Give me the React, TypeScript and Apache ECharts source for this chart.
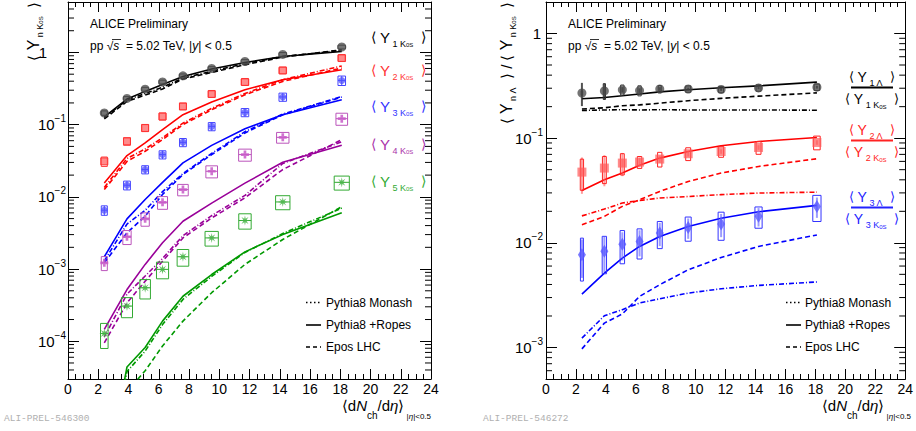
import React, { useEffect, useRef } from 'react';
import * as echarts from 'echarts';

const FF = '"Liberation Sans", Arial, Helvetica, sans-serif';
const MONO = '"Liberation Mono", "DejaVu Sans Mono", monospace';

// multiplicity classes <dNch/deta>
const multX = [2.4, 3.9, 5.1, 6.25, 7.6, 9.5, 11.7, 14.2, 18.1];

// ---------- Left panel: <Y_n K0S> ----------
const kYield1 = [0.145, 0.231, 0.31, 0.39, 0.475, 0.6, 0.75, 0.94, 1.19];
const kYield2 = [0.031, 0.0588, 0.09, 0.13, 0.179, 0.266, 0.39, 0.564, 0.837];
const kYield3 = [0.00653, 0.0145, 0.0239, 0.0385, 0.0569, 0.0946, 0.148, 0.242, 0.41];
const kYield4 = [0.00122, 0.0028, 0.00496, 0.0084, 0.0126, 0.0226, 0.0385, 0.0667, 0.121];
const kYield5 = [1.28e-4, 3.07e-4, 5.5e-4, 9.9e-4, 1.48e-3, 2.7e-3, 4.7e-3, 8.5e-3, 1.59e-2];

const kSys1 = [0.07, 0.06, 0.06, 0.06, 0.06, 0.06, 0.06, 0.06, 0.06];
const kSys2 = [0.15, 0.12, 0.11, 0.11, 0.1, 0.1, 0.1, 0.1, 0.1];
const kSys3 = [0.15, 0.14, 0.13, 0.13, 0.13, 0.13, 0.13, 0.13, 0.15];
const kSys4 = [0.22, 0.22, 0.21, 0.2, 0.18, 0.19, 0.19, 0.17, 0.19];
const kSys5 = [0.38, 0.31, 0.3, 0.26, 0.26, 0.23, 0.24, 0.22, 0.22];
const kWidth123 = [0.4, 0.45, 0.45, 0.45, 0.45, 0.45, 0.5, 0.5, 0.5];
const kWidth4 = [0.4, 0.55, 0.55, 0.66, 0.7, 0.77, 0.84, 0.82, 0.77];
const kWidth5 = [0.5, 0.73, 0.7, 0.8, 0.77, 0.88, 0.82, 0.95, 1.0];

const kRopes1 = [0.128, 0.226, 0.289, 0.361, 0.466, 0.589, 0.727, 0.88, 1.03];
const kRopes2 = [0.0156, 0.0373, 0.0558, 0.0853, 0.1375, 0.206, 0.305, 0.419, 0.576];
const kRopes3 = [0.00148, 0.00496, 0.00918, 0.0159, 0.0295, 0.0517, 0.088, 0.137, 0.222];
const kRopes4 = [1.46e-4, 5.2e-4, 1.16e-3, 2.31e-3, 4.6e-3, 8.2e-3, 0.0155, 0.0301, 0.0517];
const kRopes5 = [1e-6, 4.4e-5, 8.2e-5, 1.9e-4, 4.2e-4, 8.4e-4, 1.73e-3, 3.0e-3, 6.0e-3];

const kEpos1 = [0.12, 0.21, 0.257, 0.312, 0.428, 0.529, 0.676, 0.863, 1.09];
const kEpos2 = [0.0126, 0.031, 0.0428, 0.062, 0.1, 0.161, 0.26, 0.397, 0.608];
const kEpos3 = [0.00122, 0.00318, 0.0054, 0.0108, 0.0204, 0.0385, 0.0767, 0.137, 0.241];
const kEpos4 = [9.5e-5, 3.4e-4, 6.8e-4, 1.28e-3, 2.7e-3, 5.1e-3, 9.7e-3, 0.0239, 0.062];
const kEpos5 = [1e-7, 2e-5, 3.9e-5, 8.6e-5, 1.9e-4, 4.7e-4, 1.16e-3, 2.57e-3, 7.3e-3];

const kMonash1 = [0.125, 0.22, 0.27, 0.33, 0.44, 0.55, 0.7, 0.88, 1.07];
const kMonash2 = [0.0135, 0.034, 0.046, 0.066, 0.105, 0.168, 0.27, 0.42, 0.65];
const kMonash3 = [0.0013, 0.0042, 0.0065, 0.0118, 0.021, 0.04, 0.08, 0.14, 0.245];
const kMonash4 = [1.15e-4, 4.5e-4, 8e-4, 1.4e-3, 2.9e-3, 5.5e-3, 0.0105, 0.029, 0.058];
const kMonash5 = [6e-7, 3.8e-5, 7.3e-5, 1.7e-4, 3.8e-4, 7.9e-4, 1.7e-3, 3.1e-3, 7.0e-3];

// ---------- Right panel: <Y_n Lambda> / <Y_n K0S> ----------
const lRatio1 = [0.27, 0.283, 0.29, 0.285, 0.295, 0.295, 0.292, 0.302, 0.307];
const lRatio2 = [0.0474, 0.0518, 0.0578, 0.0591, 0.0631, 0.071, 0.0746, 0.0815, 0.091];
const lRatio3 = [0.0077, 0.0083, 0.0097, 0.0103, 0.0124, 0.014, 0.0151, 0.0179, 0.0222];

const lSys1 = [0.05, 0.17, 0.11, 0.11, 0.08, 0.07, 0.07, 0.07, 0.07];
const lSys2 = [0.33, 0.29, 0.23, 0.13, 0.16, 0.14, 0.12, 0.14, 0.15];
const lSys3 = [0.44, 0.39, 0.35, 0.32, 0.29, 0.26, 0.3, 0.23, 0.28];
const lStat1 = [0.25, 0.18, 0.06, 0.05, 0.04, 0.03, 0.03, 0.03, 0.03];
const lStat2 = [0.38, 0.33, 0.25, 0.1, 0.08, 0.06, 0.05, 0.05, 0.05];
const lStat3 = [0.4, 0.37, 0.3, 0.28, 0.25, 0.22, 0.25, 0.2, 0.22];
const lWidth1 = [0.1, 0.15, 0.22, 0.22, 0.2, 0.33, 0.33, 0.33, 0.37];
const lWidth2 = [0.22, 0.26, 0.26, 0.3, 0.29, 0.33, 0.33, 0.33, 0.44];
const lWidth3 = [0.2, 0.29, 0.3, 0.33, 0.33, 0.4, 0.4, 0.48, 0.55];

const lRopes1 = [0.238, 0.245, 0.254, 0.264, 0.277, 0.29, 0.303, 0.316, 0.343];
const lRopes2 = [0.0316, 0.04, 0.0464, 0.055, 0.0645, 0.0746, 0.0846, 0.093, 0.1016];
const lRopes3 = [0.00324, 0.00514, 0.00715, 0.00924, 0.0115, 0.0143, 0.0172, 0.0198, 0.0228];

const lEpos1 = [0.19, 0.195, 0.204, 0.208, 0.216, 0.228, 0.24, 0.252, 0.271];
const lEpos2 = [0.0149, 0.0179, 0.0223, 0.0258, 0.031, 0.0386, 0.0464, 0.0537, 0.0636];
const lEpos3 = [9.7e-4, 1.71e-3, 2.09e-3, 3.08e-3, 3.98e-3, 5.53e-3, 7.24e-3, 9.24e-3, 0.0119];

const lMonash1 = [0.184, 0.186, 0.187, 0.186, 0.187, 0.186, 0.186, 0.186, 0.185];
const lMonash2 = [0.0181, 0.021, 0.024, 0.0254, 0.0268, 0.0277, 0.0289, 0.0299, 0.0305];
const lMonash3 = [0.00123, 0.00201, 0.0023, 0.00266, 0.00292, 0.00331, 0.00364, 0.00392, 0.00423];

// axis ranges
const leftYRange = [3e-5, 5];
const rightYRange = [5e-4, 2];
const xRange = [0, 24];

const modelNames = ['Pythia8 Monash', 'Pythia8 +Ropes', 'Epos LHC'];
const leftFooter = 'ALI-PREL-546300';
const rightFooter = 'ALI-PREL-546272';

const C = {
  black: '#000000',
  red: '#ff0000',
  blue: '#0000ff',
  purple: '#990099',
  green: '#009900',
};
const DASH = [5, 3];
const DASHDOT = [5, 2, 1, 2];

const pts = (ys: number[]) => multX.map((x, i) => [x, ys[i]]);

function curve(p: number, ys: number[], color: string, type: any) {
  return {
    type: 'line',
    xAxisIndex: p * 2,
    yAxisIndex: p * 2,
    data: pts(ys),
    symbol: 'none',
    showSymbol: false,
    clip: true,
    silent: true,
    z: 3,
    lineStyle: { color, width: 1.6, type },
  };
}

function markers(p: number, ys: number[], symbol: string, size: any, fill: string, stroke?: string) {
  return {
    type: 'scatter',
    xAxisIndex: p * 2,
    yAxisIndex: p * 2,
    data: pts(ys),
    symbol,
    symbolSize: size,
    silent: true,
    z: 6,
    itemStyle: { color: fill, borderColor: stroke || fill, borderWidth: stroke ? 1 : 0, opacity: 1 },
  };
}

function boxes(
  p: number,
  ys: number[],
  sys: number[],
  widths: number[],
  stat: number[] | null,
  color: string,
  hline: boolean,
  statColor?: string,
  statWidth?: number
) {
  return {
    type: 'custom',
    xAxisIndex: p * 2,
    yAxisIndex: p * 2,
    silent: true,
    z: 4,
    data: multX.map((x, i) => [x, ys[i], sys[i], widths[i], stat ? stat[i] : 0]),
    renderItem: (_params: any, api: any) => {
      const x = api.value(0);
      const y = api.value(1);
      const r = api.value(2);
      const w = api.value(3);
      const st = api.value(4);
      const a = api.coord([x - w / 2, y * (1 + r)]);
      const b = api.coord([x + w / 2, y * (1 - r)]);
      const c = api.coord([x, y]);
      const children: any[] = [];
      if (st > 0) {
        const s1 = api.coord([x, y * (1 + st)]);
        const s2 = api.coord([x, y * (1 - st)]);
        children.push({
          type: 'line',
          shape: { x1: c[0], y1: s1[1], x2: c[0], y2: s2[1] },
          style: { stroke: statColor || color, lineWidth: statWidth || 1 },
        });
      }
      children.push({
        type: 'rect',
        shape: { x: a[0], y: a[1], width: b[0] - a[0], height: b[1] - a[1] },
        style: { fill: 'none', stroke: color, lineWidth: 1 },
      });
      if (hline) {
        children.push({
          type: 'line',
          shape: { x1: a[0], y1: c[1], x2: b[0], y2: c[1] },
          style: { stroke: color, lineWidth: 1 },
        });
      }
      return { type: 'group', children };
    },
  };
}

function minorTickValues(lo: number, hi: number) {
  const out: number[] = [];
  for (let e = -7; e <= 1; e++) {
    for (let d = 2; d <= 9; d++) {
      const v = d * Math.pow(10, e);
      if (v > lo * 1.0001 && v < hi * 0.9999) out.push(v);
    }
  }
  return out;
}

function minorTicks(p: number, range: number[]) {
  return {
    type: 'custom',
    xAxisIndex: p * 2,
    yAxisIndex: p * 2,
    silent: true,
    z: 10,
    data: minorTickValues(range[0], range[1]).map((v) => [xRange[0], v]),
    renderItem: (_params: any, api: any) => {
      const v = api.value(1);
      const a = api.coord([xRange[0], v]);
      const b = api.coord([xRange[1], v]);
      return {
        type: 'group',
        children: [
          { type: 'line', shape: { x1: a[0], y1: a[1], x2: a[0] + 6, y2: a[1] }, style: { stroke: '#000', lineWidth: 1 } },
          { type: 'line', shape: { x1: b[0], y1: b[1], x2: b[0] - 6, y2: b[1] }, style: { stroke: '#000', lineWidth: 1 } },
        ],
      };
    },
  };
}

const xAxisCfg = (grid: number, pos: string, label: boolean) => ({
  type: 'value',
  gridIndex: grid,
  position: pos,
  min: xRange[0],
  max: xRange[1],
  interval: 2,
  axisLine: { show: true, onZero: false, lineStyle: { color: '#000', width: 1 } },
  axisTick: { show: true, inside: true, length: 10, lineStyle: { color: '#000', width: 1 } },
  minorTick: { show: true, splitNumber: 4, length: 5, lineStyle: { color: '#000', width: 1 } },
  splitLine: { show: false },
  minorSplitLine: { show: false },
  axisLabel: { show: label, fontSize: 14, fontFamily: FF, color: '#000', margin: 3 },
});

const yAxisCfg = (grid: number, pos: string, range: number[], label: boolean, onePad: number, margin: number) => ({
  type: 'log',
  logBase: 10,
  gridIndex: grid,
  position: pos,
  min: range[0],
  max: range[1],
  axisLine: { show: true, onZero: false, lineStyle: { color: '#000', width: 1 } },
  axisTick: { show: true, inside: true, length: 11, lineStyle: { color: '#000', width: 1 } },
  minorTick: { show: false },
  splitLine: { show: false },
  axisLabel: {
    show: label,
    margin,
    fontFamily: FF,
    color: '#000',
    formatter: (v: number) => {
      const l = Math.log10(v);
      const r = Math.round(l);
      if (Math.abs(l - r) > 1e-6) return '';
      if (r === 0) return '{one|1}';
      return `{b|10}{e|${r < 0 ? '−' : ''}${Math.abs(r)}}`;
    },
    rich: {
      one: { fontSize: 15, fontFamily: FF, color: '#000', padding: [0, onePad, 0, 0] },
      b: { fontSize: 15, fontFamily: FF, color: '#000', lineHeight: 22, verticalAlign: 'middle' },
      e: { fontSize: 10, fontFamily: FF, color: '#000', lineHeight: 10, verticalAlign: 'top' },
    },
  },
});

// rich text styles for physics labels
const richFor = (c: string, big = 16) => ({
  b: { fontSize: big - 1, fill: c, fontFamily: FF, lineHeight: 22, verticalAlign: 'middle' },
  y: { fontSize: big, fill: c, fontFamily: FF, lineHeight: 22, verticalAlign: 'middle' },
  s: { fontSize: 9, fill: c, fontFamily: FF, lineHeight: 9, verticalAlign: 'bottom' },
  z: { fontSize: 6, fill: c, fontFamily: FF, lineHeight: 16, verticalAlign: 'bottom' },
  t: { fontSize: 6, fill: c, fontFamily: FF, lineHeight: 5, verticalAlign: 'bottom' },
});

const kLabel = (n: string) => `{b|⟨ }{y|Y}{s| ${n} K}{z|0}{t|S}{b|  ⟩}`;
const lLabel = (n: string) => `{b|⟨ }{y|Y}{s| ${n} Λ}{b|  ⟩}`;

function buildGraphic() {
  const g: any[] = [];
  const header = (x: number) => {
    g.push({ type: 'text', x, y: 24, silent: true, style: { text: 'ALICE Preliminary', fontSize: 12, fontFamily: FF, fill: '#000', verticalAlign: 'middle' } });
    g.push({
      type: 'text', x, y: 46, silent: true,
      style: {
        text: '{n|pp √}{i|s}{n|  = 5.02 TeV, |}{i|y}{n|| < 0.5}',
        verticalAlign: 'middle',
        rich: {
          n: { fontSize: 12, fontFamily: FF, fill: '#000' },
          i: { fontSize: 12, fontFamily: FF, fill: '#000', fontStyle: 'italic' },
        },
      },
    });
    g.push({ type: 'line', silent: true, shape: { x1: x + 22, y1: 39.5, x2: x + 31, y2: 39.5 }, style: { stroke: '#000', lineWidth: 0.8 } });
  };
  header(90);
  header(568);

  // left-panel series labels
  const leftLabels = [
    { n: '1', c: '#000000', y: 37 },
    { n: '2', c: '#ff3333', y: 70 },
    { n: '3', c: '#3333ff', y: 106 },
    { n: '4', c: '#aa33aa', y: 144 },
    { n: '5', c: '#33aa33', y: 181 },
  ];
  leftLabels.forEach((l) => {
    g.push({ type: 'text', x: 371, y: l.y, silent: true, style: { text: kLabel(l.n), verticalAlign: 'middle', align: 'left', rich: richFor(l.c, 15) } });
  });

  // right-panel fraction labels
  const rightLabels = [
    { n: '1', c: '#000000', y: 87.5 },
    { n: '2', c: '#ff2222', y: 140.5 },
    { n: '3', c: '#2222ff', y: 207.5 },
  ];
  rightLabels.forEach((l) => {
    g.push({ type: 'text', x: 872, y: l.y - 11, silent: true, style: { text: lLabel(l.n), verticalAlign: 'middle', align: 'center', rich: richFor(l.c, 14) } });
    g.push({ type: 'line', silent: true, shape: { x1: 851, y1: l.y, x2: 893, y2: l.y }, style: { stroke: l.c, lineWidth: 2 } });
    g.push({ type: 'text', x: 872, y: l.y + 11, silent: true, style: { text: kLabel(l.n), verticalAlign: 'middle', align: 'center', rich: richFor(l.c, 14) } });
  });

  // model legends
  const dashes: any[] = [[1.5, 2.5], 'solid', [4, 3]];
  const modelY = [302.5, 325, 347];
  [[306, 326], [786, 805]].forEach(([lx, tx]) => {
    modelNames.forEach((name, i) => {
      g.push({ type: 'line', silent: true, shape: { x1: lx, y1: modelY[i], x2: lx + 15, y2: modelY[i] }, style: { stroke: '#000', lineWidth: 1.6, lineDash: dashes[i] === 'solid' ? null : dashes[i] } });
      g.push({ type: 'text', x: tx, y: modelY[i], silent: true, style: { text: name, fontSize: 12, fontFamily: FF, fill: '#000', verticalAlign: 'middle' } });
    });
  });

  // axis titles
  const xTitleRich = {
    n: { fontSize: 15, fontFamily: FF, fill: '#000', lineHeight: 30, verticalAlign: 'middle' },
    i: { fontSize: 15, fontFamily: FF, fill: '#000', fontStyle: 'italic', lineHeight: 30, verticalAlign: 'middle' },
    s: { fontSize: 10, fontFamily: FF, fill: '#000', lineHeight: 10, verticalAlign: 'bottom' },
    u: { fontSize: 8, fontFamily: FF, fill: '#000', lineHeight: 9, verticalAlign: 'bottom' },
    ui: { fontSize: 8, fontFamily: FF, fill: '#000', fontStyle: 'italic', lineHeight: 9, verticalAlign: 'bottom' },
  };
  const xTitle = '{n|⟨d}{i|N}{s|ch}{n|/d}{i|η}{n|⟩}{u| |}{ui|η}{u||<0.5}';
  g.push({ type: 'text', x: 431, y: 405, silent: true, style: { text: xTitle, align: 'right', verticalAlign: 'middle', rich: xTitleRich } });
  g.push({ type: 'text', x: 911, y: 405, silent: true, style: { text: xTitle, align: 'right', verticalAlign: 'middle', rich: xTitleRich } });

  g.push({
    type: 'text', x: 33, y: 2, rotation: Math.PI / 2, silent: true,
    style: { text: '{b|⟨ }{y|Y}{s| n K}{z|0}{t|S}{b|  ⟩}', align: 'right', verticalAlign: 'middle', rich: richFor('#000', 16) },
  });
  g.push({
    type: 'text', x: 506, y: 2, rotation: Math.PI / 2, silent: true,
    style: { text: '{b|⟨ }{y|Y}{s| n Λ}{b|  ⟩ / ⟨ }{y|Y}{s| n K}{z|0}{t|S}{b|  ⟩}', align: 'right', verticalAlign: 'middle', rich: richFor('#000', 16) },
  });

  // footers
  g.push({ type: 'text', x: 4, y: 418, silent: true, style: { text: leftFooter, fontSize: 9.5, fontFamily: MONO, fill: '#b0b0b0', verticalAlign: 'middle' } });
  g.push({ type: 'text', x: 483, y: 418, silent: true, style: { text: rightFooter, fontSize: 9.5, fontFamily: MONO, fill: '#b0b0b0', verticalAlign: 'middle' } });
  return g;
}

const PLUS = 'path://M2,0h2v2h2v2h-2v2h-2v-2h-2v-2h2z';
const STAR = 'path://M10,5L6.66,5.69L8.54,8.54L5.69,6.66L5,10L4.31,6.66L1.46,8.54L3.34,5.69L0,5L3.34,4.31L1.46,1.46L4.31,3.34L5,0L5.69,3.34L8.54,1.46L6.66,4.31Z';

function buildOption() {
  const series: any[] = [
    // left: models
    curve(0, kMonash1, C.black, DASHDOT), curve(0, kRopes1, C.black, 'solid'), curve(0, kEpos1, C.black, DASH),
    curve(0, kMonash2, C.red, DASHDOT), curve(0, kRopes2, C.red, 'solid'), curve(0, kEpos2, C.red, DASH),
    curve(0, kMonash3, C.blue, DASHDOT), curve(0, kRopes3, C.blue, 'solid'), curve(0, kEpos3, C.blue, DASH),
    curve(0, kMonash4, C.purple, DASHDOT), curve(0, kRopes4, C.purple, 'solid'), curve(0, kEpos4, C.purple, DASH),
    curve(0, kMonash5, C.green, DASHDOT), curve(0, kRopes5, C.green, 'solid'), curve(0, kEpos5, C.green, DASH),
    // left: data
    boxes(0, kYield1, kSys1, kWidth123, null, '#555555', false),
    boxes(0, kYield2, kSys2, kWidth123, null, '#ff4444', false),
    boxes(0, kYield3, kSys3, kWidth123, kSys3, '#4444ff', true),
    boxes(0, kYield4, kSys4, kWidth4, null, '#bb55bb', true),
    boxes(0, kYield5, kSys5, kWidth5, null, '#33aa33', true),
    markers(0, kYield1, 'circle', 9, 'rgba(70,70,70,0.75)'),
    markers(0, kYield2, 'rect', 7, 'rgba(255,90,90,0.7)', '#ff3333'),
    markers(0, kYield3, 'circle', 7, 'rgba(80,80,255,0.75)'),
    markers(0, kYield4, PLUS, 8, 'rgba(200,90,200,0.85)'),
    markers(0, kYield5, STAR, 10, 'rgba(70,180,70,0.85)'),
    minorTicks(0, leftYRange),
    // right: models
    curve(1, lMonash1, C.black, DASHDOT), curve(1, lRopes1, C.black, 'solid'), curve(1, lEpos1, C.black, DASH),
    curve(1, lMonash2, C.red, DASHDOT), curve(1, lRopes2, C.red, 'solid'), curve(1, lEpos2, C.red, DASH),
    curve(1, lMonash3, C.blue, DASHDOT), curve(1, lRopes3, C.blue, 'solid'), curve(1, lEpos3, C.blue, DASH),
    // right: data
    boxes(1, lRatio1, lSys1, lWidth1, lStat1, '#333333', false, 'rgba(40,40,40,0.8)', 2),
    boxes(1, lRatio2, lSys2, lWidth2, lStat2, '#ff2222', false, 'rgba(255,90,90,0.6)', 2),
    boxes(1, lRatio3, lSys3, lWidth3, lStat3, '#3333ff', false, 'rgba(90,90,255,0.6)', 2),
    markers(1, lRatio1, 'circle', 9, 'rgba(70,70,70,0.75)'),
    markers(1, lRatio2, 'rect', 9, 'rgba(255,90,90,0.7)'),
    markers(1, lRatio3, 'diamond', [8, 13], 'rgba(90,90,255,0.8)'),
    minorTicks(1, rightYRange),
  ];

  return {
    animation: false,
    backgroundColor: '#ffffff',
    textStyle: { fontFamily: FF },
    grid: [
      { left: 68, top: 2, width: 363, height: 377, containLabel: false },
      { left: 546, top: 2, width: 365, height: 377, containLabel: false },
    ],
    xAxis: [xAxisCfg(0, 'bottom', true), xAxisCfg(0, 'top', false), xAxisCfg(1, 'bottom', true), xAxisCfg(1, 'top', false)],
    yAxis: [
      yAxisCfg(0, 'left', leftYRange, true, 19, 2),
      yAxisCfg(0, 'right', leftYRange, false, 0, 2),
      yAxisCfg(1, 'left', rightYRange, true, 2, 3),
      yAxisCfg(1, 'right', rightYRange, false, 0, 3),
    ],
    graphic: buildGraphic(),
    series,
  };
}

export default function App() {
  const ref = useRef<HTMLDivElement>(null);
  useEffect(() => {
    if (!ref.current) return;
    const chart = echarts.init(ref.current, null, { renderer: 'svg' });
    chart.setOption(buildOption() as any);
    return () => chart.dispose();
  }, []);
  return <div ref={ref} style={{ position: 'absolute', left: 0, top: 0, width: 916, height: 431, background: '#fff' }} />;
}
